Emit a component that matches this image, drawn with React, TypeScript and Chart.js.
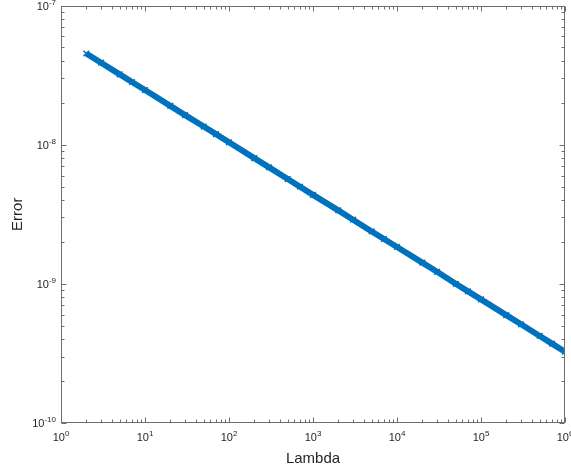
import React, { useEffect, useRef } from "react";
import { Chart, registerables } from "chart.js";

Chart.register(...registerables);

// Data (log-log straight line)
const lambdaValues = [
  2, 3, 5, 7, 10, 20, 30, 50, 70, 100, 200, 300, 500, 700, 1000, 2000, 3000,
  5000, 7000, 1e4, 2e4, 3e4, 5e4, 7e4, 1e5, 2e5, 3e5, 5e5, 7e5, 1e6,
];
const errorValues = [
  4.52e-8, 3.88e-8, 3.2e-8, 2.82e-8, 2.47e-8, 1.9e-8, 1.63e-8, 1.35e-8,
  1.19e-8, 1.04e-8, 8.0e-9, 6.87e-9, 5.66e-9, 4.99e-9, 4.36e-9, 3.37e-9,
  2.89e-9, 2.38e-9, 2.1e-9, 1.84e-9, 1.42e-9, 1.22e-9, 1.0e-9, 8.83e-10,
  7.73e-10, 5.96e-10, 5.12e-10, 4.22e-10, 3.72e-10, 3.25e-10,
];
const xTickExponents = [0, 1, 2, 3, 4, 5, 6];
const yTickExponents = [-10, -9, -8, -7];
const xTitle = "Lambda";
const yTitle = "Error";

const LINE_COLOR = "#0072BD";
const AXIS_COLOR = "#6e6e6e";
const TEXT_COLOR = "#262626";
const FONT = 'Helvetica, Arial, "Liberation Sans", sans-serif';

function drawPower(
  ctx: CanvasRenderingContext2D,
  exp: number,
  x: number,
  baseline: number,
  align: "center" | "right"
) {
  const base = "10";
  const e = String(exp).replace("-", "-");
  ctx.font = `11px ${FONT}`;
  const wb = ctx.measureText(base).width;
  ctx.font = `8px ${FONT}`;
  const we = ctx.measureText(e).width;
  const total = wb + we;
  const start = align === "center" ? x - total / 2 : x - total;
  ctx.textAlign = "left";
  ctx.textBaseline = "alphabetic";
  ctx.fillStyle = TEXT_COLOR;
  ctx.font = `11px ${FONT}`;
  ctx.fillText(base, start, baseline);
  ctx.font = `8px ${FONT}`;
  ctx.fillText(e, start + wb, baseline - 5);
}

const matlabAxes = {
  id: "matlabAxes",
  afterDraw(chart: any) {
    const { ctx, chartArea: a, scales } = chart;
    const xs = scales.x;
    const ys = scales.y;
    const L = Math.round(a.left) + 0.5;
    const R = Math.round(a.right) - 0.5;
    const T = Math.round(a.top) + 0.5;
    const B = Math.round(a.bottom) - 0.5;
    ctx.save();
    ctx.strokeStyle = AXIS_COLOR;
    ctx.lineWidth = 1;
    ctx.strokeRect(L, T, R - L, B - T);

    const major = 5;
    const minor = 3;
    ctx.beginPath();
    // x ticks
    xTickExponents.forEach((d, i) => {
      const ks = i < xTickExponents.length - 1 ? [1, 2, 3, 4, 5, 6, 7, 8, 9] : [1];
      ks.forEach((k) => {
        const v = k * Math.pow(10, d);
        const px = Math.round(xs.getPixelForValue(v)) + 0.5;
        const len = k === 1 ? major : minor;
        ctx.moveTo(px, B);
        ctx.lineTo(px, B - len);
        ctx.moveTo(px, T);
        ctx.lineTo(px, T + len);
      });
    });
    // y ticks
    yTickExponents.forEach((d, i) => {
      const ks = i < yTickExponents.length - 1 ? [1, 2, 3, 4, 5, 6, 7, 8, 9] : [1];
      ks.forEach((k) => {
        const v = k * Math.pow(10, d);
        const py = Math.round(ys.getPixelForValue(v)) + 0.5;
        const len = k === 1 ? major : minor;
        ctx.moveTo(L, py);
        ctx.lineTo(L + len, py);
        ctx.moveTo(R, py);
        ctx.lineTo(R - len, py);
      });
    });
    ctx.stroke();

    // tick labels
    xTickExponents.forEach((d) => {
      const px = xs.getPixelForValue(Math.pow(10, d));
      drawPower(ctx, d, px, a.bottom + 18, "center");
    });
    yTickExponents.forEach((d) => {
      const py = ys.getPixelForValue(Math.pow(10, d));
      drawPower(ctx, d, a.left - 5, py + 4, "right");
    });

    // axis titles
    ctx.fillStyle = TEXT_COLOR;
    ctx.font = `15px ${FONT}`;
    ctx.textAlign = "center";
    ctx.textBaseline = "middle";
    ctx.fillText(xTitle, (a.left + a.right) / 2, a.bottom + 36);
    ctx.save();
    ctx.translate(18, (a.top + a.bottom) / 2);
    ctx.rotate(-Math.PI / 2);
    ctx.fillText(yTitle, 0, 0);
    ctx.restore();
    ctx.restore();
  },
};

export default function App() {
  const canvasRef = useRef<HTMLCanvasElement | null>(null);

  useEffect(() => {
    if (!canvasRef.current) return;
    const chart = new Chart(canvasRef.current, {
      type: "line",
      data: {
        datasets: [
          {
            data: lambdaValues.map((x, i) => ({ x, y: errorValues[i] })),
            borderColor: LINE_COLOR,
            backgroundColor: LINE_COLOR,
            borderWidth: 6,
            pointStyle: "crossRot",
            pointRadius: 4,
            pointBorderWidth: 1.5,
            pointBorderColor: LINE_COLOR,
            fill: false,
            tension: 0,
          },
        ],
      },
      options: {
        responsive: false,
        animation: false,
        layout: { padding: { left: 0, top: 5, right: 6, bottom: 0 } },
        plugins: {
          legend: { display: false },
          tooltip: { enabled: false },
        },
        scales: {
          x: {
            type: "logarithmic",
            min: 1,
            max: 1e6,
            grid: { display: false },
            border: { display: false },
            ticks: { display: false },
            afterFit: (s: any) => {
              s.height = 47;
            },
          },
          y: {
            type: "logarithmic",
            min: 1e-10,
            max: 1e-7,
            grid: { display: false },
            border: { display: false },
            ticks: { display: false },
            afterFit: (s: any) => {
              s.width = 61;
            },
          },
        },
      },
      plugins: [matlabAxes],
    });
    return () => chart.destroy();
  }, []);

  return (
    <div
      style={{
        position: "fixed",
        left: 0,
        top: 0,
        width: 571,
        height: 470,
        background: "#fff",
      }}
    >
      <canvas ref={canvasRef} width={571} height={470} />
    </div>
  );
}
